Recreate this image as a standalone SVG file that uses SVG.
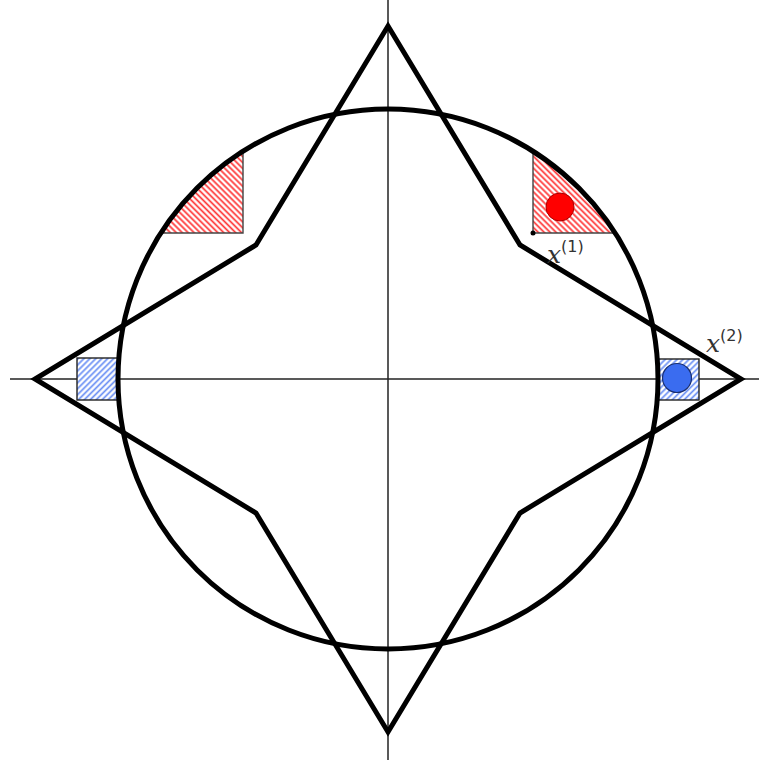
<svg xmlns="http://www.w3.org/2000/svg" width="759" height="760" viewBox="0 0 759 760">
<style>
.axis{stroke:#222;stroke-width:1.5;fill:none}
.thick{stroke:#000;stroke-width:5;fill:none;stroke-linejoin:miter}
.red{fill:url(#hr);stroke:#444;stroke-width:1.4}
.blue{fill:url(#hb);stroke:#222;stroke-width:1.4}
.lbl{font-family:"DejaVu Sans","Liberation Sans",sans-serif;fill:#333}
.x{font-family:"DejaVu Serif","Liberation Serif",serif;font-style:italic}
</style>
<defs>
<pattern id="hr" patternUnits="userSpaceOnUse" width="4.2" height="4.2" patternTransform="rotate(-45)">
<rect width="4.2" height="4.2" fill="#fff"/>
<line x1="2.1" y1="-1" x2="2.1" y2="5.2" stroke="#f33" stroke-width="1.7"/>
</pattern>
<pattern id="hb" patternUnits="userSpaceOnUse" width="4.2" height="4.2" patternTransform="rotate(45)">
<rect width="4.2" height="4.2" fill="#fff"/>
<line x1="2.1" y1="-1" x2="2.1" y2="5.2" stroke="#6a8ff5" stroke-width="1.7"/>
</pattern>
</defs>
<g id="axes">
<line class="axis" x1="388" y1="0" x2="388" y2="760"/>
<line class="axis" x1="10" y1="379" x2="759" y2="379"/>
</g>
<g id="regions">
<path id="red-right" class="red" d="M533,233 L533,152 A270,270 0 0 1 614,233 Z"/>
<path id="red-left" class="red" d="M243,233 L243,152 A270,270 0 0 0 162,233 Z"/>
<rect id="blue-right" class="blue" x="657" y="359" width="42" height="41"/>
<rect id="blue-left" class="blue" x="77" y="358" width="42" height="42"/>
</g>
<g id="shapes">
<circle id="circle" class="thick" cx="388" cy="379" r="270"/>
<path id="star" class="thick" d="M388,26 L520,245 L741,379 L520,513 L388,732 L256,513 L35,379 L256,245 Z"/>
</g>
<g id="points">
<circle cx="560" cy="207" r="14" fill="#f00" stroke="#a00" stroke-width="1"/>
<circle cx="677" cy="378" r="14.5" fill="#3a6cf0" stroke="#1a2f70" stroke-width="1.2"/>
<circle cx="533" cy="233" r="2.5" fill="#000"/>
</g>
<g id="labels">
<text class="lbl" x="547" y="263" font-size="25"><tspan class="x">x</tspan><tspan font-size="16" dy="-11">(1)</tspan></text>
<text class="lbl" x="706" y="352" font-size="25"><tspan class="x">x</tspan><tspan font-size="16" dy="-11">(2)</tspan></text>
</g>
</svg>
